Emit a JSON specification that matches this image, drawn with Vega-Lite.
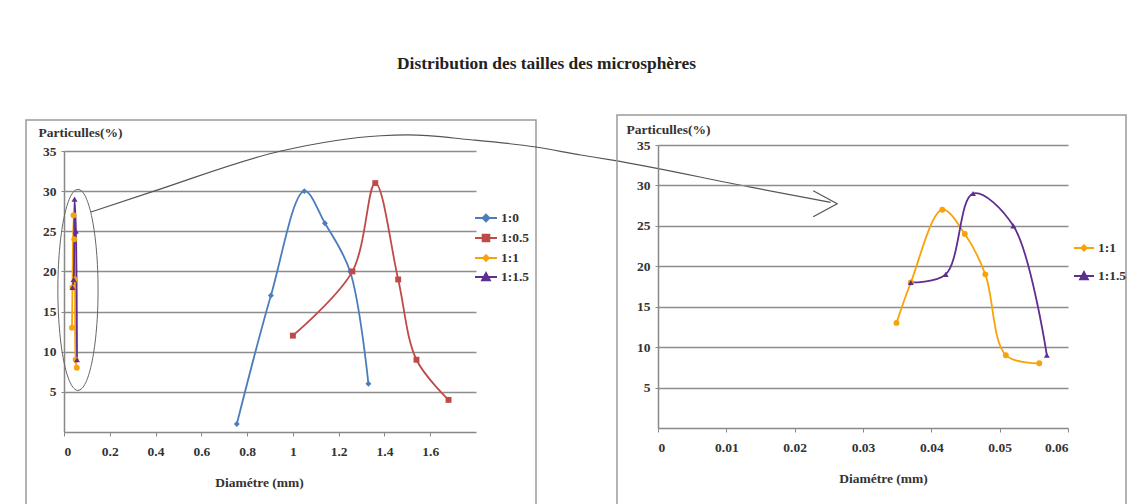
{
  "$schema": "https://vega.github.io/schema/vega-lite/v6.json",
  "background": "white",
  "padding": {"left": 25, "top": 54, "right": 4, "bottom": 0},
  "title": {"text": "Distribution des tailles des microsphères", "anchor": "middle", "dx": -30, "offset": 42, "font": "Liberation Serif", "fontSize": 17.4, "fontWeight": "bold", "color": "#222"},
  "datasets": {
    "main": [
      {"s": "1:0", "d": 0.755, "p": 1},
      {"s": "1:0", "d": 0.904, "p": 17},
      {"s": "1:0", "d": 1.05, "p": 30},
      {"s": "1:0", "d": 1.14, "p": 26},
      {"s": "1:0", "d": 1.25, "p": 20},
      {"s": "1:0", "d": 1.33, "p": 6},
      {"s": "1:0.5", "d": 1.0, "p": 12},
      {"s": "1:0.5", "d": 1.26, "p": 20},
      {"s": "1:0.5", "d": 1.36, "p": 31},
      {"s": "1:0.5", "d": 1.46, "p": 19},
      {"s": "1:0.5", "d": 1.54, "p": 9},
      {"s": "1:0.5", "d": 1.68, "p": 4},
      {"s": "1:1", "d": 0.0349, "p": 13},
      {"s": "1:1", "d": 0.037, "p": 18},
      {"s": "1:1", "d": 0.0416, "p": 27},
      {"s": "1:1", "d": 0.0449, "p": 24},
      {"s": "1:1", "d": 0.0479, "p": 19},
      {"s": "1:1", "d": 0.0509, "p": 9},
      {"s": "1:1", "d": 0.0558, "p": 8},
      {"s": "1:1.5", "d": 0.037, "p": 18},
      {"s": "1:1.5", "d": 0.0421, "p": 19},
      {"s": "1:1.5", "d": 0.0461, "p": 29},
      {"s": "1:1.5", "d": 0.052, "p": 25},
      {"s": "1:1.5", "d": 0.0569, "p": 9}
    ],
    "ellipse": [{"d": 0.061, "p": 17.7}],
    "arrow": [
      {"d": 0.118, "p": 27.4},
      {"d": 0.393, "p": 30.0},
      {"d": 0.948, "p": 35.0},
      {"d": 1.384, "p": 36.9},
      {"d": 1.502, "p": 37.0},
      {"d": 1.777, "p": 36.4},
      {"d": 2.061, "p": 35.5},
      {"d": 2.258, "p": 34.5},
      {"d": 2.389, "p": 33.9},
      {"d": 3.0, "p": 30.5},
      {"d": 3.349, "p": 28.6}
    ],
    "tip": [{"d": 3.378, "p": 28.43}]
  },
  "spacing": 81,
  "bounds": "flush",
  "center": true,
  "resolve": {"scale": {"color": "independent"}, "legend": {"color": "independent"}},
  "hconcat": [
    {
      "width": 510,
      "height": 390,
      "layer": [
        {
          "data": {"name": "main"},
          "mark": {"type": "line", "interpolate": "catmull-rom", "strokeWidth": 1.8},
          "encoding": {
            "x": {"field": "d", "type": "quantitative", "scale": {"domain": [0, 1.8], "range": [38, 450], "nice": false, "zero": false},
              "axis": {"title": "Diamétre (mm)", "offset": -78, "values": [0, 0.2, 0.4, 0.6, 0.8, 1, 1.2, 1.4, 1.6], "format": "~g", "grid": false, "tickSize": 4, "labelPadding": 8, "titlePadding": 18, "titleX": 233}},
            "y": {"field": "p", "type": "quantitative", "scale": {"domain": [0, 35], "range": [312, 31], "nice": false},
              "axis": {"title": "Particulles(%)", "offset": -38, "values": [5, 10, 15, 20, 25, 30, 35], "grid": true, "gridScale": "concat_0_x", "tickSize": 3, "labelPadding": 5, "titleAngle": 0, "titleAlign": "left", "titleBaseline": "middle", "titleX": -26, "titleY": 12}},
            "color": {"field": "s", "type": "nominal",
              "scale": {"domain": ["1:0", "1:0.5", "1:1", "1:1.5"], "range": ["#4A7EBB", "#BE4B48", "#F7A30A", "#5E2F91"]},
              "legend": {"title": null, "orient": "none", "legendX": 448, "legendY": 86, "rowPadding": -1, "labelOffset": 3, "symbolSize": 484,
                "labelFont": "Liberation Serif", "labelFontSize": 13.5, "labelFontWeight": "bold", "labelColor": "#333",
                "encoding": {"symbols": {
                  "shape": {"value": {"expr": "datum.value === '1:0' ? 'M-1,0L1,0M0,-0.3L0.3,0L0,0.3L-0.3,0Z' : datum.value === '1:0.5' ? 'M-1,0L1,0M-0.3,-0.3L0.3,-0.3L0.3,0.3L-0.3,0.3Z' : datum.value === '1:1' ? 'M-1,0L1,0M0,-0.25L0.25,0L0,0.25L-0.25,0Z' : 'M-1,0L1,0M0,-0.35L0.35,0.3L-0.35,0.3Z'"}},
                  "fill": {"value": {"expr": "datum.value === '1:0' ? '#4A7EBB' : datum.value === '1:0.5' ? '#BE4B48' : datum.value === '1:1' ? '#F7A30A' : '#5E2F91'"}},
                  "strokeWidth": {"value": 2},
                  "opacity": {"value": 1}
                }}}}
          }
        },
        {
          "data": {"name": "main"},
          "mark": {"type": "point", "filled": true, "size": 35, "opacity": 1},
          "encoding": {
            "x": {"field": "d", "type": "quantitative"},
            "y": {"field": "p", "type": "quantitative"},
            "color": {"condition": [{"test": "datum.s === '1:0'", "value": "#4A7EBB"}, {"test": "datum.s === '1:0.5'", "value": "#BE4B48"}, {"test": "datum.s === '1:1'", "value": "#F7A30A"}], "value": "#5E2F91"},
            "shape": {"condition": [{"test": "datum.s === '1:0'", "value": "diamond"}, {"test": "datum.s === '1:0.5'", "value": "square"}, {"test": "datum.s === '1:1'", "value": "circle"}], "value": "triangle-up"}
          }
        },
        {
          "data": {"name": "ellipse"},
          "mark": {"type": "point", "filled": false, "shape": "M0,-1A0.2,1,0,1,1,0,1A0.2,1,0,1,1,0,-1Z", "size": 40401, "stroke": "#666", "strokeWidth": 1, "opacity": 1},
          "encoding": {
            "x": {"field": "d", "type": "quantitative"},
            "y": {"field": "p", "type": "quantitative"}
          }
        },
        {
          "data": {"name": "arrow"},
          "mark": {"type": "line", "interpolate": "monotone", "color": "#555", "strokeWidth": 1.2},
          "encoding": {
            "x": {"field": "d", "type": "quantitative"},
            "y": {"field": "p", "type": "quantitative"}
          }
        },
        {
          "data": {"name": "tip"},
          "mark": {"type": "point", "filled": false, "shape": "M-1,-0.54L0,0L-1,0.54", "size": 2304, "stroke": "#555", "strokeWidth": 1.2, "opacity": 1},
          "encoding": {
            "x": {"field": "d", "type": "quantitative"},
            "y": {"field": "p", "type": "quantitative"}
          }
        }
      ]
    },
    {
      "width": 509,
      "height": 400,
      "transform": [{"filter": {"field": "s", "oneOf": ["1:1", "1:1.5"]}}],
      "data": {"name": "main"},
      "layer": [
        {
          "mark": {"type": "line", "interpolate": "catmull-rom", "strokeWidth": 1.8},
          "encoding": {
            "x": {"field": "d", "type": "quantitative", "scale": {"domain": [0, 0.06], "range": [41, 451], "nice": false, "zero": false},
              "axis": {"title": "Diamétre (mm)", "offset": -87, "values": [0, 0.01, 0.02, 0.03, 0.04, 0.05, 0.06], "format": "~g", "grid": false, "tickSize": 4, "labelPadding": 8, "titlePadding": 18, "titleX": 266}},
            "y": {"field": "p", "type": "quantitative", "scale": {"domain": [0, 35], "range": [313, 30], "nice": false},
              "axis": {"title": "Particulles(%)", "offset": -41, "values": [5, 10, 15, 20, 25, 30, 35], "grid": true, "gridScale": "concat_1_x", "tickSize": 3, "labelPadding": 5, "titleAngle": 0, "titleAlign": "left", "titleBaseline": "middle", "titleX": -32, "titleY": 14}},
            "color": {"field": "s", "type": "nominal",
              "scale": {"domain": ["1:1", "1:1.5"], "range": ["#F7A30A", "#5E2F91"]},
              "legend": {"title": null, "orient": "none", "legendX": 456, "legendY": 122, "rowPadding": 10, "labelOffset": 3, "symbolSize": 400,
                "labelFont": "Liberation Serif", "labelFontSize": 13.5, "labelFontWeight": "bold", "labelColor": "#333",
                "encoding": {"symbols": {
                  "shape": {"value": {"expr": "datum.value === '1:1' ? 'M-1,0L1,0M0,-0.27L0.27,0L0,0.27L-0.27,0Z' : 'M-1,0L1,0M0,-0.38L0.38,0.32L-0.38,0.32Z'"}},
                  "fill": {"value": {"expr": "datum.value === '1:1' ? '#F7A30A' : '#5E2F91'"}},
                  "strokeWidth": {"value": 2},
                  "opacity": {"value": 1}
                }}}}
          }
        },
        {
          "mark": {"type": "point", "filled": true, "size": 35, "opacity": 1},
          "encoding": {
            "x": {"field": "d", "type": "quantitative"},
            "y": {"field": "p", "type": "quantitative"},
            "color": {"condition": [{"test": "datum.s === '1:1'", "value": "#F7A30A"}], "value": "#5E2F91"},
            "shape": {"condition": [{"test": "datum.s === '1:1'", "value": "circle"}], "value": "triangle-up"}
          }
        }
      ]
    }
  ],
  "config": {
    "view": {"stroke": "#9a9a9a", "strokeWidth": 1.5},
    "axis": {"labelFont": "Liberation Serif", "labelFontSize": 13.5, "labelFontWeight": "bold", "labelColor": "#333", "titleFont": "Liberation Serif", "titleFontSize": 13.5, "titleFontWeight": "bold", "titleColor": "#333", "domainColor": "#888", "domainWidth": 1.5, "tickColor": "#888", "gridColor": "#8c8c8c", "gridWidth": 1.5},
    "legend": {"labelFont": "Liberation Serif", "labelFontSize": 13.5, "labelFontWeight": "bold", "labelColor": "#333"}
  }
}
